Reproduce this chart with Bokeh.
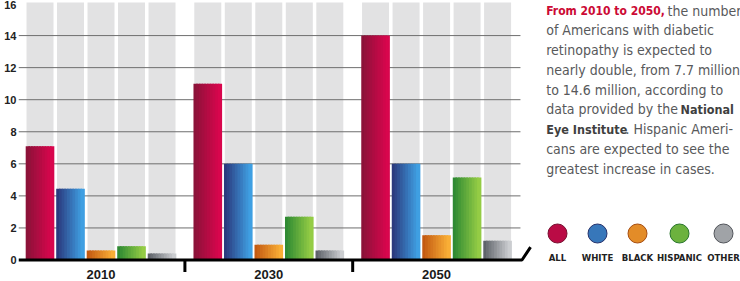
from bokeh.plotting import figure
from bokeh.layouts import row
from bokeh.models import Range1d, FixedTicker
from bokeh.core.properties import value
from bokeh.embed import file_html
from bokeh.resources import INLINE

# ---------------- data ----------------
years = ["2010", "2030", "2050"]
groups = ["ALL", "WHITE", "BLACK", "HISPANIC", "OTHER"]
all_vals = [7.1, 11.0, 14.0]
white_vals = [4.45, 6.0, 6.0]
black_vals = [0.6, 0.95, 1.55]
hispanic_vals = [0.85, 2.7, 5.15]
other_vals = [0.4, 0.6, 1.2]
y_ticks = [0, 2, 4, 6, 8, 10, 12, 14, 16]

series = [all_vals, white_vals, black_vals, hispanic_vals, other_vals]
dark = ["#8c1239", "#2b3a7e", "#c35a12", "#2f8a33", "#5f636a"]
light = ["#d8064d", "#3f9fe2", "#f9ae36", "#94cc45", "#cbcdd0"]

# ---------------- geometry ----------------
GP = 5.5          # group pitch in slot units
BW = 0.885        # bar width (slot units)
PXU = 16.03       # pixels per value unit (vertical)
X0, X1 = -0.705, 16.21
Y0, Y1 = -21.5 / PXU, 259.5 / PXU

def hex2rgb(h):
    h = h.lstrip("#")
    return tuple(int(h[i:i + 2], 16) for i in (0, 2, 4))

def mix(a, b, t):
    ra, rb = hex2rgb(a), hex2rgb(b)
    return "#%02x%02x%02x" % tuple(int(round(ra[k] + (rb[k] - ra[k]) * t)) for k in range(3))

slot_x = []
for g in range(len(years)):
    for i in range(len(groups)):
        slot_x.append(g * GP + i)
centers = [g * GP + (len(groups) - 1) / 2 for g in range(len(years))]
seps = [g * GP + (len(groups) - 1) + (GP - (len(groups) - 1)) / 2 for g in range(len(years) - 1)]

p = figure(width=534, height=281, x_range=Range1d(X0, X1), y_range=Range1d(Y0, Y1),
           output_backend="svg", toolbar_location=None,
           min_border_left=18, min_border_right=0, min_border_top=0, min_border_bottom=0)
p.outline_line_color = None
p.xgrid.visible = False
p.ygrid.visible = False
p.xaxis.visible = False

# grey background columns
p.vbar(x=slot_x, width=BW, bottom=0, top=Y1 - 2 / PXU, fill_color="#e2e2e3", line_color=None)

# grid lines
gl = [t for t in y_ticks if 0 < t < 16]
grid_end = slot_x[-1] + 0.75
p.segment(x0=[X0] * len(gl), x1=[grid_end] * len(gl), y0=gl, y1=gl, line_color="#6e6e6e", line_width=1)

# bars with horizontal gradient strips
N = 10
bx, bt, bc = [], [], []
for si, vals in enumerate(series):
    for g, v in enumerate(vals):
        cx = g * GP + si
        for k in range(N):
            off = -BW / 2 + BW * (k + 0.5) / N
            bx.append(cx + off)
            bt.append(v)
            bc.append(mix(dark[si], light[si], k / (N - 1)))
p.vbar(x=bx, width=BW / N * 1.6, bottom=0, top=bt, fill_color=bc, line_color=None)

# baseline with end flourish
p.line(x=[X0, grid_end + 0.05, grid_end + 0.33], y=[0, 0, 0.8], line_color="black", line_width=3)

# group separator ticks and year labels
p.segment(x0=seps, x1=seps, y0=[0] * len(seps), y1=[-12 / PXU] * len(seps), line_color="black", line_width=3)
p.text(x=centers, y=[0] * len(centers), text=years, y_offset=14, text_font=value("Liberation Sans"),
       text_font_style="bold", text_font_size="13px", text_color="#1a1a1a",
       text_align="center", text_baseline="middle")

# y axis
p.yaxis.ticker = FixedTicker(ticks=y_ticks)
p.yaxis.axis_line_color = None
p.yaxis.major_tick_out = 0
p.yaxis.major_tick_in = 0
p.yaxis.major_tick_line_color = None
p.yaxis.minor_tick_line_color = None
p.yaxis.major_label_standoff = 2
p.yaxis.major_label_text_font = "Liberation Sans"
p.yaxis.major_label_text_font_style = "bold"
p.yaxis.major_label_text_font_size = "11px"
p.yaxis.major_label_text_color = "#222222"

# ---------------- right panel ----------------
q = figure(width=206, height=281, x_range=Range1d(0, 206), y_range=Range1d(281, 0),
           output_backend="svg", toolbar_location=None,
           min_border_left=0, min_border_right=0, min_border_top=0, min_border_bottom=0)
q.outline_line_color = None
q.axis.visible = False
q.grid.visible = False

TF = "'DejaVu Sans Condensed', 'Roboto Condensed', 'Liberation Sans Narrow', 'Noto Sans'"
reg_lines = ["the number", "of Americans with diabetic", "retinopathy is expected to",
             "nearly double, from 7.7 million", "to 14.6 million, according to",
             "data provided by the", ". Hispanic Ameri-", "cans are expected to see the",
             "greatest increase in cases."]
reg_x = [133, 11.7, 11.7, 11.7, 11.7, 11.7, 91, 11.7, 11.7]
reg_line = [0, 1, 2, 3, 4, 5, 6, 7, 8]
bold_text = ["National", "Eye Institute"]
bold_x = [146, 11.7]
bold_line = [5, 6]
red_text = ["From 2010 to 2050,"]
red_x = [11.7]
red_line = [0]

LY0, LP = 10.0, 19.75
q.text(x=reg_x, y=[LY0 + LP * i for i in reg_line], text=reg_lines, text_font=value(TF),
       text_font_size="14px", text_color="#58595b", text_baseline="middle")
q.text(x=bold_x, y=[LY0 + LP * i for i in bold_line], text=bold_text, text_font=value(TF),
       text_font_size="12.5px", text_font_style="bold", text_color="#3f3f3f", text_baseline="middle")
q.text(x=red_x, y=[LY0 + LP * i for i in red_line], text=red_text, text_font=value(TF),
       text_font_size="12px", text_font_style="bold", text_color="#cc0a35", text_baseline="middle")

# legend
leg_x = [23, 63, 103, 145, 189]
leg_col = [mix(dark[i], light[i], 0.6) for i in range(5)]
leg_edge = [mix(dark[i], "#000000", 0.15) for i in range(5)]
q.scatter(x=leg_x, y=[233] * 5, size=19, marker="circle", fill_color=leg_col, line_color=leg_edge, line_width=1)
q.text(x=leg_x, y=[257] * 5, text=groups, text_font=value(TF), text_font_size="9.5px",
       text_font_style="bold", text_color="#222222", text_align="center", text_baseline="middle")

layout = row(p, q)
open("out.html", "w").write(file_html(layout, INLINE))
